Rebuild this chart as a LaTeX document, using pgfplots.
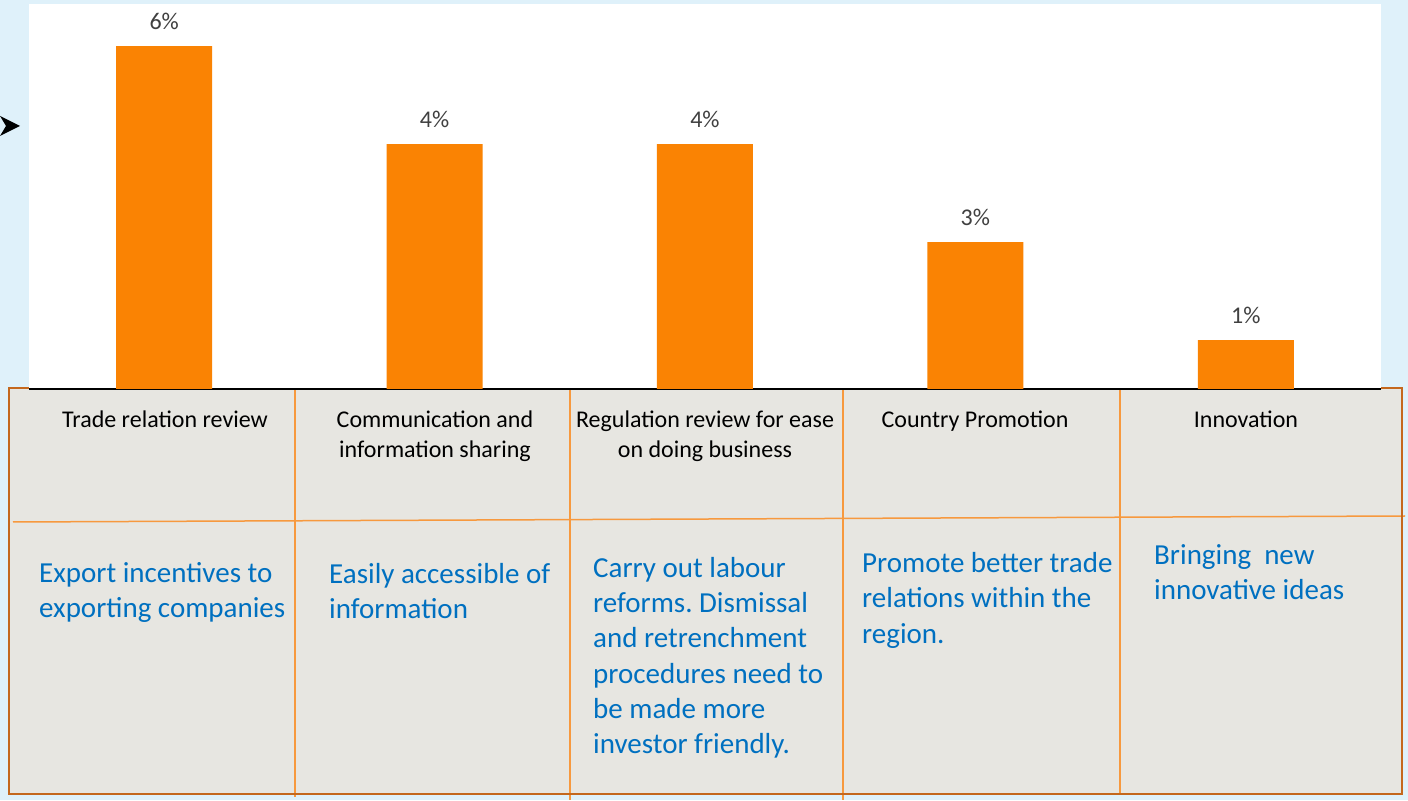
\documentclass[border=0pt]{standalone}
\usepackage{fontspec}
\setmainfont{Carlito}
\usepackage{pgfplots}
\pgfplotsset{compat=1.18}
\frenchspacing
\definecolor{bgblue}{HTML}{DFF1FA}
\definecolor{barorange}{HTML}{FA8303}
\definecolor{tablegrey}{HTML}{E7E6E1}
\definecolor{outerline}{HTML}{C4681E}
\definecolor{innerline}{HTML}{F7993E}
\definecolor{textblue}{HTML}{0070C0}
\definecolor{valgrey}{HTML}{404040}
\newcommand{\cat}[3]{\node[anchor=base,inner sep=0pt,font=\fontsize{24}{30}\selectfont,text=black] at (#1,{800-#2}) {#3};}
\newcommand{\blu}[3]{\node[anchor=base west,inner sep=0pt,font=\fontsize{29}{35}\selectfont,text=textblue] at (#1,{800-#2}) {#3};}
\begin{document}
\begin{tikzpicture}[x=1pt,y=1pt]
\fill[bgblue] (0,0) rectangle (1408,800);
% table
\fill[tablegrey] (9,6) rectangle (1402,412);
\draw[innerline, line width=1.5pt] (13,278) -- (1405,284);
\draw[innerline, line width=1.5pt] (295,412) -- (295,3);
\draw[innerline, line width=1.5pt] (570,412) -- (570,0);
\draw[innerline, line width=1.5pt] (843,412) -- (843,0);
\draw[innerline, line width=1.5pt] (1120,412) -- (1120,6);
\draw[outerline, line width=2.5pt] (9,412) rectangle (1402,6);
% arrow fragment
\fill[black] (20,674) -- (0,684) -- (6,674) -- (0,664) -- cycle;
\begin{axis}[
  at={(29pt,411pt)}, anchor=south west, scale only axis,
  width=1352pt, height=385pt,
  xmin=-0.5, xmax=4.5, ymin=0, ymax=6.68,
  axis x line*=bottom, axis y line=none,
  x axis line style={black, line width=1.5pt, -},
  xtick=\empty, ytick=\empty,
  axis background/.style={fill=white},
  clip=false,
]
\addplot[ybar, fill=barorange, draw=none, bar width=96pt,
  point meta=explicit symbolic,
  nodes near coords,
  every node near coord/.append style={anchor=base, inner sep=0pt, yshift=17pt,
    font=\fontsize{24}{28}\selectfont, text=valgrey}]
  coordinates {(0,5.95) [6\%] (1,4.25) [4\%] (2,4.25) [4\%] (3,2.55) [3\%] (4,0.85) [1\%]};
\end{axis}
% category labels
\cat{165}{428}{Trade relation review}
\cat{435}{428}{Communication and}
\cat{435}{458}{information sharing}
\cat{705}{428}{Regulation review for ease}
\cat{705}{458}{on doing business}
\cat{975}{428}{Country Promotion}
\cat{1246}{428}{Innovation}
% blue texts
\blu{39}{583}{Export incentives to}
\blu{39}{618}{exporting companies}
\blu{329}{584}{Easily accessible of}
\blu{329}{619}{information}
\blu{593}{578}{Carry out labour}
\blu{593}{613}{reforms. Dismissal}
\blu{593}{648}{and retrenchment}
\blu{593}{683}{procedures need to}
\blu{593}{718}{be made more}
\blu{593}{753}{investor friendly.}
\blu{862}{573}{Promote better trade}
\blu{862}{608}{relations within the}
\blu{862}{643}{region.}
\blu{1154}{565}{Bringing\ \ new}
\blu{1154}{600}{innovative ideas}
\end{tikzpicture}
\end{document}
